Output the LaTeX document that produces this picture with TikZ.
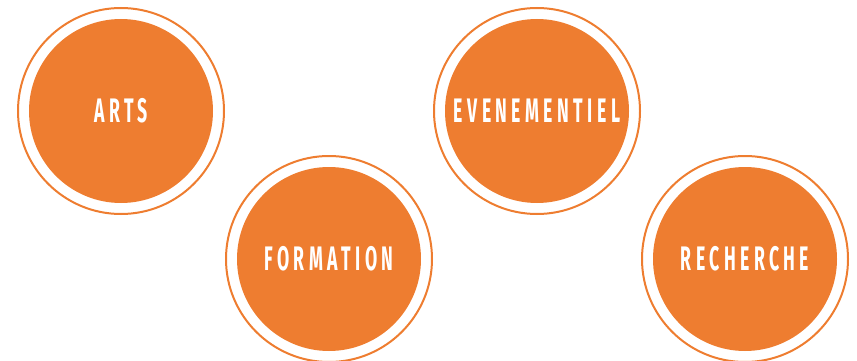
\documentclass[tikz,border=0pt]{standalone}
\usepackage{fontspec}
\newfontfamily\badgefont[FakeStretch=0.52,LetterSpace=13]{Fira Sans}
\definecolor{badgeorange}{RGB}{238,125,48}
\begin{document}
\begin{tikzpicture}[x=1pt,y=-1pt,line cap=round,line join=round,
    badge/.style={circle,fill=badgeorange,minimum size=184pt,inner sep=0pt,
      text=white,font=\fontsize{34}{34}\selectfont\badgefont\bfseries},
    ring/.style={draw=badgeorange,line width=2pt}]
      \useasboundingbox (0,0) rectangle (857,361);
      \node[badge] (arts) at (121,111) {ARTS};
      \node[badge] (formation) at (329,259) {FORMATION};
      \node[badge] (evenementiel) at (537,111) {EVENEMENTIEL};
      \node[badge] (recherche) at (745,259) {RECHERCHE};

      \draw[ring] (arts.center) circle (103pt) (formation.center) circle (103pt)
            (evenementiel.center) circle (103pt) (recherche.center) circle (103pt);
      \end{tikzpicture}
\end{document}
